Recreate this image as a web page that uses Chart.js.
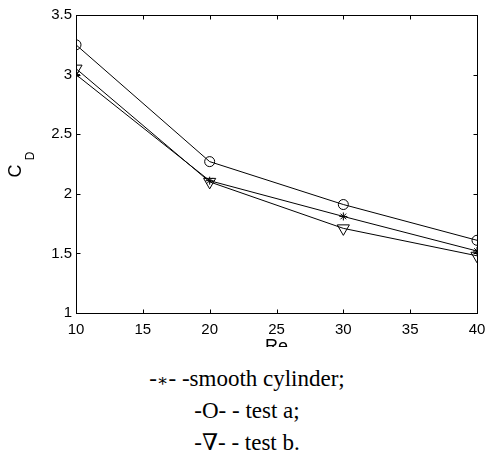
<!DOCTYPE html>
<html>
<head>
<meta charset="utf-8">
<script src="https://cdn.jsdelivr.net/npm/chart.js@4/dist/chart.umd.min.js"></script>
<style>
    html, body { margin: 0; padding: 0; background: #fff; }
    #wrap { position: relative; width: 488px; height: 472px; overflow: hidden; }
    #chart { position: absolute; left: 0; top: 0; }
    #caption { position: absolute; left: 0; top: 347px; width: 488px; height: 125px; background: #fff; }
    .line {
        position: absolute; left: 3px; width: 488px; text-align: center;
        font-family: "Liberation Serif", "DejaVu Serif", "Times New Roman", Times, serif;
        font-size: 23px; line-height: 24px;
        color: #000; white-space: pre;
    }
    .sym { font-family: "DejaVu Serif", serif; font-size: 17px; }
</style>
</head>
<body>
<div id="wrap">
    <canvas id="chart" width="488" height="472"></canvas>
    <div id="caption">
        <div class="line" style="top:20px">-<span class="sym">∗</span>- -smooth cylinder;</div>
        <div class="line" style="top:52px">-O- - test a;</div>
        <div class="line" style="top:84px">-∇- - test b.</div>
    </div>
</div>
<script>
const reValues = [10, 20, 30, 40];
const smoothCylinder = [3.0, 2.11, 1.81, 1.52];
const testA = [3.25, 2.27, 1.91, 1.61];
const testB = [3.05, 2.1, 1.71, 1.48];

const xTicks = [10, 15, 20, 25, 30, 35, 40];
const xTickLabels = ['10', '15', '20', '25', '30', '35', '40'];
const yTicks = [1, 1.5, 2, 2.5, 3, 3.5];
const yTickLabels = ['1', '1.5', '2', '2.5', '3', '3.5'];

const toPoints = (ys) => ys.map((y, i) => ({ x: reValues[i], y: y }));

// box around the plot with matlab style inward ticks, plus the C_D label
const boxPlugin = {
    id: 'box',
    afterDraw(chart) {
        const { ctx, chartArea: a, scales } = chart;
        const len = 4;
        ctx.save();
        ctx.strokeStyle = '#000';
        ctx.lineWidth = 1;
        const l = Math.round(a.left) + 0.5, r = Math.round(a.right) + 0.5;
        const t = Math.round(a.top) + 0.5, b = Math.round(a.bottom) + 0.5;
        ctx.strokeRect(l, t, r - l, b - t);
        ctx.beginPath();
        xTicks.forEach(v => {
            const px = Math.round(scales.x.getPixelForValue(v)) + 0.5;
            ctx.moveTo(px, b); ctx.lineTo(px, b - len);
            ctx.moveTo(px, t); ctx.lineTo(px, t + len);
        });
        yTicks.forEach(v => {
            const py = Math.round(scales.y.getPixelForValue(v)) + 0.5;
            ctx.moveTo(l, py); ctx.lineTo(l + len, py);
            ctx.moveTo(r, py); ctx.lineTo(r - len, py);
        });
        ctx.stroke();

        ctx.fillStyle = '#000';
        ctx.translate(16, 171);
        ctx.rotate(-Math.PI / 2);
        ctx.textAlign = 'center';
        ctx.textBaseline = 'middle';
        ctx.font = '18px "Liberation Sans", Arial, sans-serif';
        ctx.fillText('C', 0, 0);
        ctx.font = '12px "Liberation Sans", Arial, sans-serif';
        ctx.fillText('D', 15, 15);
        ctx.restore();
    }
};

const series = (label, data, style, radius, rotation) => ({
    label: label,
    data: toPoints(data),
    borderColor: '#000',
    borderWidth: 1,
    backgroundColor: 'rgba(0,0,0,0)',
    pointStyle: style,
    pointRadius: radius,
    pointRotation: rotation,
    pointBorderColor: '#000',
    pointBackgroundColor: 'rgba(0,0,0,0)',
    pointBorderWidth: 1,
    tension: 0,
    fill: false
});

const tickFont = { family: '"Liberation Sans", Arial, sans-serif', size: 15 };

new Chart(document.getElementById('chart'), {
    type: 'line',
    data: {
        datasets: [
            series('smooth cylinder', smoothCylinder, 'star', 4, 0),
            series('test a', testA, 'circle', 5, 0),
            series('test b', testB, 'triangle', 7, 180)
        ]
    },
    options: {
        responsive: false,
        animation: false,
        layout: { padding: { left: 0, top: 15, right: 11, bottom: 114 } },
        plugins: { legend: { display: false }, tooltip: { enabled: false } },
        scales: {
            x: {
                type: 'linear',
                min: 10,
                max: 40,
                afterBuildTicks: (s) => { s.ticks = xTicks.map(v => ({ value: v })); },
                afterFit: (s) => { s.height = 45; s.paddingLeft = 0; s.paddingRight = 0; },
                grid: { display: false, drawTicks: false },
                border: { display: false },
                ticks: {
                    color: '#000', font: tickFont, padding: 8, maxRotation: 0,
                    callback: (v) => xTickLabels[xTicks.indexOf(v)]
                },
                title: {
                    display: true, text: 'Re', color: '#000',
                    font: { family: '"Liberation Sans", Arial, sans-serif', size: 18 },
                    padding: 0
                }
            },
            y: {
                min: 1,
                max: 3.5,
                afterBuildTicks: (s) => { s.ticks = yTicks.map(v => ({ value: v })); },
                afterFit: (s) => { s.width = 76; s.paddingTop = 0; s.paddingBottom = 0; },
                grid: { display: false, drawTicks: false },
                border: { display: false },
                ticks: {
                    color: '#000', font: tickFont, padding: 4,
                    callback: (v) => yTickLabels[yTicks.indexOf(v)]
                }
            }
        }
    },
    plugins: [boxPlugin]
});
</script>
</body>
</html>
